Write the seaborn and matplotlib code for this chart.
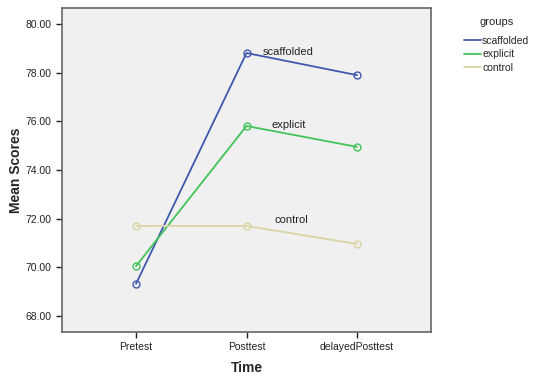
import pandas as pd
import matplotlib.pyplot as plt
import seaborn as sns
from matplotlib.lines import Line2D
from matplotlib.ticker import FormatStrFormatter

times = ['Pretest', 'Posttest', 'delayedPosttest']
groups = ['scaffolded', 'explicit', 'control']
scaffolded = [69.32, 78.81, 77.90]
explicit = [70.05, 75.81, 74.95]
control = [71.70, 71.70, 70.96]
colors = ['#4058AE', '#44C25A', '#DAD4A4']

df = pd.DataFrame({
    'Time': times * 3,
    'Mean Scores': scaffolded + explicit + control,
    'groups': [g for g in groups for _ in times],
})

sns.set_style('ticks')
plt.rcParams['font.family'] = ['Liberation Sans', 'DejaVu Sans']

fig = plt.figure(figsize=(5.33, 3.76), dpi=100)
ax = fig.add_axes([62 / 533, 1 - 332 / 376, 369 / 533, 324 / 376])
ax.set_facecolor('#F0F0F0')

sns.lineplot(data=df, x='Time', y='Mean Scores', hue='groups', hue_order=groups,
             palette=colors, sort=False, ax=ax, legend=False, linewidth=1.3,
             marker='o', markersize=5, markerfacecolor='none', markeredgewidth=1.0)
for line, c in zip(ax.get_lines(), colors):
    line.set_markeredgecolor(c)
    line.set_markerfacecolor('none')

# labels next to the Posttest point
for g, vals, dx in zip(groups, [scaffolded, explicit, control], [0.15, 0.23, 0.25]):
    ax.text(1 + dx, vals[1] + 0.05, g, fontsize=8, color='#222222',
            va='bottom' if g == 'control' else 'center')

ax.set_xlim(-0.67, 2.67)
ax.set_ylim(67.34, 80.66)
ax.set_yticks([68, 70, 72, 74, 76, 78, 80])
ax.yaxis.set_major_formatter(FormatStrFormatter('%.2f'))
ax.tick_params(axis='both', labelsize=7.5, length=4, width=1, color='#222222', labelcolor='#222222')
ax.set_xlabel('Time', fontsize=10, fontweight='bold', labelpad=6)
ax.set_ylabel('Mean Scores', fontsize=10, fontweight='bold', labelpad=2)
for s in ax.spines.values():
    s.set_color('#666666')
    s.set_linewidth(1.2)

handles = [Line2D([], [], color=c, linewidth=1.3) for c in colors]
leg = fig.legend(handles, groups, title='groups', loc='upper left',
                 bbox_to_anchor=(455 / 533, 1 - 8 / 376), frameon=False,
                 fontsize=7.5, title_fontsize=8, handlelength=1.6,
                 handletextpad=0.1, labelspacing=0.35)
leg._legend_box.sep = 6

fig.savefig('out.png', dpi=100)
